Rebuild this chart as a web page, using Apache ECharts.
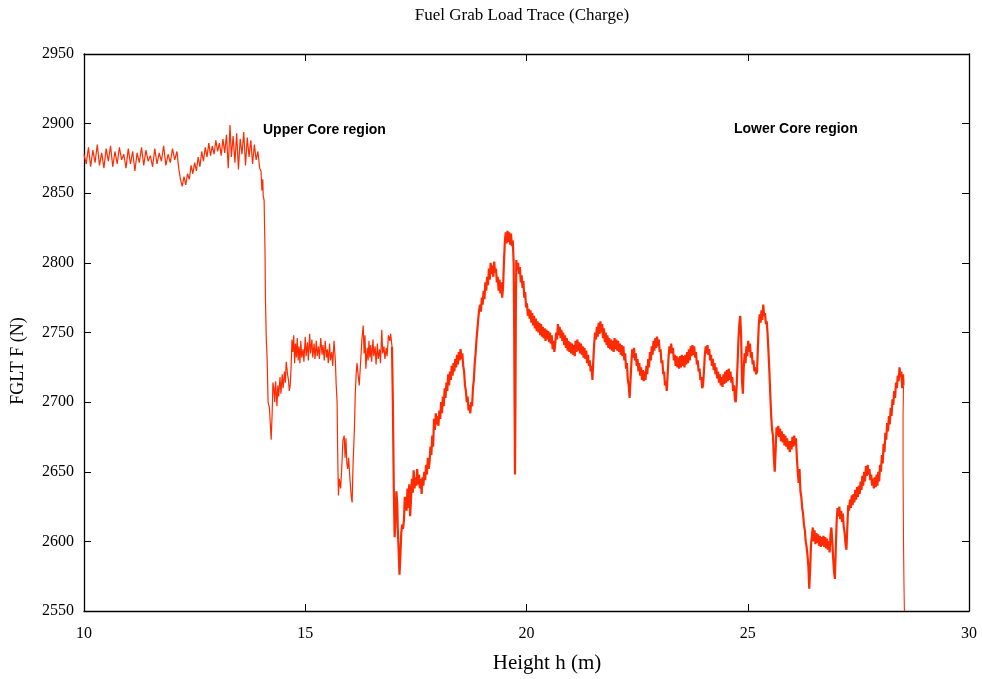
<!DOCTYPE html>
<html>
<head>
<meta charset="utf-8">
<script src="https://cdn.jsdelivr.net/npm/echarts@6/dist/echarts.min.js"></script>
<style>html,body{margin:0;padding:0;background:#fff;}#c{width:982px;height:679px;}</style>
</head>
<body>
<div id="c"></div>
<script>
const chartTitle = 'Fuel Grab Load Trace (Charge)';
const xAxisTitle = 'Height h (m)';
const yAxisTitle = 'FGLT F (N)';
const regionLabels = ['Upper Core region', 'Lower Core region'];
const xRange = [10, 30, 5];
const yRange = [2550, 2950, 50];

// Upper core: flat noisy section and first step down
const traceUpper = [
[10.00,2878],[10.05,2871],[10.10,2883],[10.15,2869],[10.20,2881],[10.25,2872],[10.30,2885],[10.35,2870],[10.40,2879],[10.45,2868],
[10.50,2882],[10.55,2873],[10.60,2884],[10.65,2869],[10.70,2880],[10.75,2871],[10.80,2883],[10.85,2874],[10.90,2878],[10.95,2868],
[11.00,2882],[11.05,2871],[11.10,2880],[11.15,2866],[11.20,2879],[11.25,2872],[11.30,2883],[11.35,2870],[11.40,2881],[11.45,2873],
[11.50,2877],[11.55,2869],[11.60,2882],[11.65,2871],[11.70,2879],[11.75,2873],[11.80,2884],[11.85,2870],[11.90,2878],[11.95,2872],
[12.00,2882],[12.05,2874],[12.10,2880],[12.14,2868],[12.18,2860],[12.22,2855],[12.26,2862],[12.30,2856],[12.34,2864],[12.38,2860],
[12.42,2870],[12.46,2864],[12.50,2872],[12.54,2866],[12.58,2876],[12.62,2869],[12.66,2880],[12.70,2873],[12.74,2883],[12.78,2876],
[12.82,2886],[12.86,2877],[12.90,2884],[12.94,2878],[12.98,2888],[13.02,2880],[13.06,2886],[13.10,2877],[13.14,2889],[13.18,2879],
[13.22,2892],[13.26,2868],[13.30,2899],[13.33,2876],[13.37,2891],[13.41,2872],[13.45,2893],[13.49,2867],[13.53,2889],[13.57,2878],
[13.61,2894],[13.65,2870],[13.69,2890],[13.73,2876],[13.77,2888],[13.81,2871],[13.85,2885],[13.89,2874],[13.93,2880],[13.97,2868],
[14.00,2866],[14.02,2852],[14.04,2860],[14.05,2848],[14.07,2845],[14.09,2810],[14.10,2775],[14.12,2745],[14.14,2730],[14.16,2700],
[14.19,2696],[14.21,2685],[14.23,2673],[14.25,2690],[14.27,2714],[14.29,2710],[14.31,2700],[14.33,2715],[14.36,2697],[14.38,2712],
[14.40,2704],[14.43,2718],[14.45,2706],[14.48,2720],[14.50,2710],[14.53,2722],[14.55,2714],[14.57,2729],[14.60,2720],[14.62,2716],
[14.64,2708],[14.66,2712],[14.68,2725],[14.70,2745],[14.72,2736],[14.74,2748],[14.76,2728],[14.78,2742],[14.80,2732],[14.82,2746],
[14.84,2730],[14.86,2740],[14.88,2728],[14.90,2744],[14.92,2732],[14.95,2738],[14.97,2729],[15.00,2747],[15.02,2733],[15.05,2743],
[15.07,2730],[15.10,2749],[15.12,2735],[15.15,2745],[15.17,2732],[15.20,2742],[15.22,2731],[15.25,2744],[15.27,2733],[15.30,2740],
[15.32,2731],[15.35,2746],[15.38,2734],[15.40,2741],[15.43,2730],[15.45,2744],[15.48,2732],[15.50,2738],[15.52,2728],[15.55,2742],
[15.57,2730],[15.60,2736],[15.62,2726],[15.65,2744],[15.68,2730],[15.70,2712],[15.72,2700],[15.73,2670],[15.74,2650],[15.75,2633],
[15.77,2645],[15.80,2638],[15.83,2656],[15.85,2672],[15.88,2676],[15.90,2660],[15.92,2674],[15.94,2656],[15.96,2652],[15.98,2660],
[16.01,2645],[16.04,2632],[16.06,2628],[16.08,2655],[16.11,2680],[16.13,2705],[16.15,2720],[16.17,2728],[16.20,2718],[16.22,2712],
[16.25,2728],[16.28,2745],[16.31,2755],[16.33,2735],[16.35,2748],[16.37,2724],[16.40,2739],[16.42,2730],[16.44,2744],[16.46,2732],
[16.48,2741],[16.50,2729],[16.53,2745],[16.55,2733],[16.58,2740],[16.60,2727],[16.63,2742],[16.65,2731],[16.68,2738],[16.70,2728],
[16.73,2752],[16.75,2735],[16.78,2740],[16.80,2731],[16.83,2739],[16.85,2733],[16.88,2748],[16.91,2744],[16.93,2749],[16.96,2740]
];

// Middle: drop at 17 m, climb to peak near 19.6 m
const traceMiddle = [
[16.98,2700],[17.00,2640],[17.02,2603],[17.04,2618],[17.06,2636],[17.08,2626],[17.09,2610],[17.11,2594],[17.13,2576],[17.15,2590],
[17.17,2606],[17.19,2612],[17.21,2609],[17.23,2615],[17.25,2632],[17.27,2628],[17.29,2622],[17.31,2638],[17.33,2624],[17.35,2641],
[17.37,2618],[17.39,2630],[17.41,2645],[17.43,2635],[17.45,2651],[17.47,2638],[17.49,2646],[17.51,2640],[17.53,2652],[17.55,2641],
[17.57,2648],[17.59,2638],[17.61,2645],[17.63,2634],[17.65,2646],[17.67,2640],[17.69,2650],[17.71,2644],[17.73,2655],[17.75,2648],
[17.77,2660],[17.79,2652],[17.81,2657],[17.83,2668],[17.85,2662],[17.87,2676],[17.89,2668],[17.91,2688],[17.93,2680],[17.95,2692],
[17.97,2684],[17.99,2690],[18.01,2683],[18.03,2694],[18.05,2688],[18.07,2700],[18.09,2692],[18.11,2704],[18.13,2697],[18.15,2710],
[18.17,2703],[18.19,2714],[18.21,2708],[18.23,2720],[18.25,2712],[18.27,2722],[18.29,2716],[18.31,2726],[18.33,2719],[18.35,2728],
[18.37,2722],[18.39,2731],[18.41,2725],[18.43,2734],[18.45,2727],[18.47,2736],[18.49,2730],[18.51,2738],[18.53,2731],[18.55,2735],
[18.57,2726],[18.59,2722],[18.61,2712],[18.63,2708],[18.65,2700],[18.67,2704],[18.69,2694],[18.71,2698],[18.73,2692],[18.75,2700],
[18.77,2697],[18.79,2710],[18.81,2716],[18.83,2728],[18.85,2735],[18.87,2745],[18.89,2752],[18.91,2760],[18.93,2766],[18.95,2770],
[18.97,2765],[18.99,2775],[19.01,2770],[19.03,2780],[19.05,2774],[19.07,2786],[19.09,2780],[19.11,2790],[19.13,2784],[19.15,2796],
[19.17,2788],[19.19,2800],[19.21,2792],[19.23,2798],[19.25,2790],[19.27,2801],[19.29,2793],[19.31,2796],[19.33,2786],[19.35,2790],
[19.37,2780],[19.39,2788],[19.41,2778],[19.43,2786],[19.45,2775],[19.47,2782],[19.49,2800],[19.51,2815],[19.53,2822],[19.55,2814],
[19.57,2823],[19.59,2815],[19.61,2822],[19.63,2813],[19.65,2821],[19.67,2812],[19.69,2816],[19.71,2800],[19.72,2760],[19.73,2700],
[19.74,2648],[19.75,2700],[19.76,2770],[19.77,2802],[19.79,2795],[19.81,2800],[19.83,2792],[19.85,2797],[19.87,2786],[19.89,2791],
[19.91,2782],[19.93,2787],[19.95,2775],[19.97,2779],[19.99,2768]
];

// Mid core plateau 20 m to 25 m
const traceLowerA = [
[20.01,2771],[20.03,2762],[20.05,2767],[20.07,2760],[20.09,2766],[20.11,2757],[20.13,2764],[20.15,2755],[20.17,2762],[20.19,2753],
[20.21,2760],[20.23,2751],[20.25,2758],[20.27,2750],[20.29,2757],[20.31,2748],[20.33,2756],[20.35,2747],[20.37,2754],[20.39,2746],
[20.41,2753],[20.43,2744],[20.45,2752],[20.47,2745],[20.49,2751],[20.51,2743],[20.53,2750],[20.55,2742],[20.57,2748],[20.59,2738],
[20.61,2744],[20.63,2736],[20.65,2742],[20.67,2750],[20.69,2745],[20.71,2756],[20.73,2748],[20.75,2754],[20.77,2746],[20.79,2752],
[20.81,2744],[20.83,2750],[20.85,2741],[20.87,2748],[20.89,2739],[20.91,2746],[20.93,2737],[20.95,2744],[20.97,2736],[20.99,2743],
[21.01,2735],[21.03,2742],[21.05,2734],[21.07,2741],[21.09,2733],[21.11,2744],[21.13,2736],[21.15,2745],[21.17,2737],[21.19,2743],
[21.21,2735],[21.23,2742],[21.25,2734],[21.27,2740],[21.29,2732],[21.31,2739],[21.33,2731],[21.35,2737],[21.37,2728],[21.39,2734],
[21.41,2726],[21.43,2730],[21.45,2722],[21.47,2726],[21.49,2716],[21.51,2730],[21.53,2742],[21.55,2750],[21.57,2745],[21.59,2754],
[21.61,2747],[21.63,2757],[21.65,2749],[21.67,2758],[21.69,2750],[21.71,2756],[21.73,2746],[21.75,2753],[21.77,2743],[21.79,2750],
[21.81,2741],[21.83,2748],[21.85,2739],[21.87,2746],[21.89,2738],[21.91,2745],[21.93,2737],[21.95,2744],[21.97,2736],[21.99,2746],
[22.01,2738],[22.03,2745],[22.05,2737],[22.07,2744],[22.09,2736],[22.11,2742],[22.13,2734],[22.15,2741],[22.17,2733],[22.19,2740],
[22.21,2730],[22.23,2735],[22.25,2724],[22.27,2728],[22.29,2716],[22.31,2712],[22.33,2703],[22.35,2715],[22.37,2728],[22.39,2738],
[22.41,2732],[22.43,2739],[22.45,2730],[22.47,2735],[22.49,2726],[22.51,2731],[22.53,2722],[22.55,2728],[22.57,2719],[22.59,2725],
[22.61,2716],[22.63,2723],[22.65,2715],[22.67,2722],[22.69,2716],[22.71,2726],[22.73,2720],[22.75,2731],[22.77,2725],[22.79,2736],
[22.81,2730],[22.83,2740],[22.85,2734],[22.87,2744],[22.89,2737],[22.91,2746],[22.93,2739],[22.95,2747],[22.97,2740],[22.99,2745],
[23.01,2736],[23.03,2738],[23.05,2728],[23.07,2730],[23.09,2720],[23.11,2722],[23.13,2712],[23.15,2715],[23.17,2708],[23.19,2720],
[23.21,2732],[23.23,2740],[23.25,2735],[23.27,2742],[23.29,2735],[23.31,2739],[23.33,2730],[23.35,2734],[23.37,2726],[23.39,2733],
[23.41,2725],[23.43,2732],[23.45,2724],[23.47,2733],[23.49,2725],[23.51,2734],[23.53,2726],[23.55,2733],[23.57,2725],[23.59,2734],
[23.61,2727],[23.63,2736],[23.65,2728],[23.67,2738],[23.69,2730],[23.71,2740],[23.73,2733],[23.75,2741],[23.77,2734],[23.79,2740],
[23.81,2732],[23.83,2736],[23.85,2727],[23.87,2730],[23.89,2722],[23.91,2724],[23.93,2716],[23.95,2718],[23.97,2710],[23.99,2712],
[24.01,2722],[24.03,2734],[24.05,2740],[24.07,2735],[24.09,2741],[24.11,2734],[24.13,2738],[24.15,2730],[24.17,2734],[24.19,2726],
[24.21,2731],[24.23,2723],[24.25,2728],[24.27,2720],[24.29,2725],[24.31,2717],[24.33,2722],[24.35,2714],[24.37,2720],[24.39,2712],
[24.41,2718],[24.43,2711],[24.45,2720],[24.47,2713],[24.49,2722],[24.51,2714],[24.53,2723],[24.55,2715],[24.57,2724],[24.59,2716],
[24.61,2722],[24.63,2714],[24.65,2718],[24.67,2708],[24.69,2712],[24.71,2702],[24.73,2700],[24.75,2712],[24.77,2728],[24.79,2745],
[24.81,2756],[24.83,2762],[24.85,2748],[24.87,2715],[24.89,2706],[24.91,2725],[24.93,2735],[24.95,2728],[24.97,2740],[24.99,2733]
];

// Lower core: 25 m to end of travel
const traceLowerB = [
[25.01,2744],[25.03,2736],[25.05,2742],[25.07,2732],[25.09,2736],[25.11,2727],[25.13,2730],[25.15,2722],[25.17,2725],[25.19,2720],
[25.21,2722],[25.23,2740],[25.25,2756],[25.27,2763],[25.29,2757],[25.31,2766],[25.33,2759],[25.35,2770],[25.37,2762],[25.39,2764],
[25.41,2756],[25.43,2758],[25.45,2748],[25.47,2735],[25.49,2721],[25.51,2705],[25.53,2690],[25.55,2680],[25.57,2676],[25.59,2660],
[25.61,2650],[25.63,2665],[25.65,2682],[25.67,2676],[25.69,2683],[25.71,2675],[25.73,2681],[25.75,2672],[25.77,2679],[25.79,2671],
[25.81,2677],[25.83,2669],[25.85,2676],[25.87,2668],[25.89,2674],[25.91,2666],[25.93,2672],[25.95,2664],[25.97,2672],[25.99,2666],
[26.01,2675],[26.03,2668],[26.05,2676],[26.07,2669],[26.09,2674],[26.11,2660],[26.13,2650],[26.15,2642],[26.17,2652],[26.19,2636],
[26.21,2632],[26.23,2624],[26.25,2620],[26.27,2612],[26.29,2608],[26.31,2600],[26.33,2596],[26.35,2590],[26.37,2582],[26.39,2566],
[26.41,2580],[26.43,2598],[26.45,2604],[26.47,2610],[26.49,2600],[26.51,2608],[26.53,2598],[26.55,2606],[26.57,2599],[26.59,2605],
[26.61,2597],[26.63,2604],[26.65,2596],[26.67,2603],[26.69,2597],[26.71,2604],[26.73,2596],[26.75,2603],[26.77,2595],[26.79,2602],
[26.81,2594],[26.83,2600],[26.85,2592],[26.87,2605],[26.89,2610],[26.91,2600],[26.93,2588],[26.95,2578],[26.97,2573],[26.99,2596],
[27.01,2615],[27.03,2624],[27.05,2618],[27.07,2625],[27.09,2616],[27.11,2622],[27.13,2614],[27.15,2620],[27.17,2610],[27.19,2606],
[27.21,2598],[27.23,2594],[27.25,2610],[27.27,2626],[27.29,2622],[27.31,2630],[27.33,2624],[27.35,2633],[27.37,2626],[27.39,2634],
[27.41,2628],[27.43,2637],[27.45,2630],[27.47,2639],[27.49,2632],[27.51,2640],[27.53,2634],[27.55,2643],[27.57,2637],[27.59,2647],
[27.61,2640],[27.63,2650],[27.65,2643],[27.67,2654],[27.69,2647],[27.71,2655],[27.73,2648],[27.75,2652],[27.77,2644],[27.79,2648],
[27.81,2640],[27.83,2645],[27.85,2638],[27.87,2646],[27.89,2639],[27.91,2648],[27.93,2640],[27.95,2650],[27.97,2643],[27.99,2655],
[28.01,2650],[28.03,2662],[28.05,2656],[28.07,2670],[28.09,2664],[28.11,2678],[28.13,2673],[28.15,2685],[28.17,2679],[28.19,2690],
[28.21,2684],[28.23,2696],[28.25,2690],[28.27,2702],[28.29,2698],[28.31,2708],[28.33,2703],[28.35,2714],[28.37,2710],[28.39,2719],
[28.41,2715],[28.43,2725],[28.45,2718],[28.47,2722],[28.49,2710],[28.51,2720],[28.52,2712]
];

// Final unload drop at end of travel
const traceEnd = [[28.52,2712],[28.51,2690],[28.51,2650],[28.52,2600],[28.53,2570],[28.54,2550]];

const denseTrace = [traceUpper[traceUpper.length - 1]].concat(traceMiddle, traceLowerA, traceLowerB);

const chart = echarts.init(document.getElementById('c'), null, {renderer: 'canvas'});
const serif = 'Liberation Serif, Times New Roman, serif';
const sans = 'Liberation Sans, Arial, sans-serif';
const traceColor = '#ff2a00';
const axisLineStyle = {color: '#000', width: 1.3};
const tickStyle = {show: true, inside: true, length: 7, lineStyle: {color: '#000', width: 1}};
const baseX = {
  type: 'value', min: xRange[0], max: xRange[1], interval: xRange[2],
  axisLine: {show: true, onZero: false, lineStyle: axisLineStyle},
  axisTick: tickStyle, splitLine: {show: false}
};
const baseY = {
  type: 'value', min: yRange[0], max: yRange[1], interval: yRange[2],
  axisLine: {show: true, onZero: false, lineStyle: axisLineStyle},
  axisTick: tickStyle, splitLine: {show: false}
};
function lineSeries(data, width) {
  return {
    type: 'line', xAxisIndex: 0, yAxisIndex: 0, data: data,
    showSymbol: false, symbol: 'none', sampling: null, silent: true, clip: true,
    lineStyle: {color: traceColor, width: width}
  };
}
chart.setOption({
  animation: false,
  backgroundColor: '#fff',
  grid: {left: 84, right: 13, top: 54, bottom: 68, containLabel: false, outerBoundsMode: 'none'},
  xAxis: [
    Object.assign({}, baseX, {position: 'bottom', axisLabel: {show: true, margin: 15, fontFamily: serif, fontSize: 16, color: '#000'}}),
    Object.assign({}, baseX, {position: 'top', axisLabel: {show: false}})
  ],
  yAxis: [
    Object.assign({}, baseY, {position: 'left', axisLabel: {show: true, margin: 10, fontFamily: serif, fontSize: 16, color: '#000', formatter: function (v) { return String(v); }}}),
    Object.assign({}, baseY, {position: 'right', axisLabel: {show: false}})
  ],
  series: [
    lineSeries(traceUpper, 1.2),
    lineSeries(denseTrace, 2.2),
    lineSeries(traceEnd, 1.1)
  ],
  graphic: [
    {type: 'text', style: {text: chartTitle, x: 522, y: 16, font: '17px ' + serif, fill: '#000', textAlign: 'center', textVerticalAlign: 'middle'}},
    {type: 'text', style: {text: xAxisTitle, x: 547, y: 663, font: '21px ' + serif, fill: '#000', textAlign: 'center', textVerticalAlign: 'middle'}},
    {type: 'text', rotation: Math.PI / 2, x: 18, y: 361, style: {text: yAxisTitle, x: 0, y: 0, font: '18px ' + serif, fill: '#000', textAlign: 'center', textVerticalAlign: 'middle'}},
    {type: 'text', style: {text: regionLabels[0], x: 263, y: 130, font: 'bold 14px ' + sans, fill: '#000', textAlign: 'left', textVerticalAlign: 'middle'}},
    {type: 'text', style: {text: regionLabels[1], x: 734, y: 129, font: 'bold 14px ' + sans, fill: '#000', textAlign: 'left', textVerticalAlign: 'middle'}}
  ]
});
</script>
</body>
</html>
